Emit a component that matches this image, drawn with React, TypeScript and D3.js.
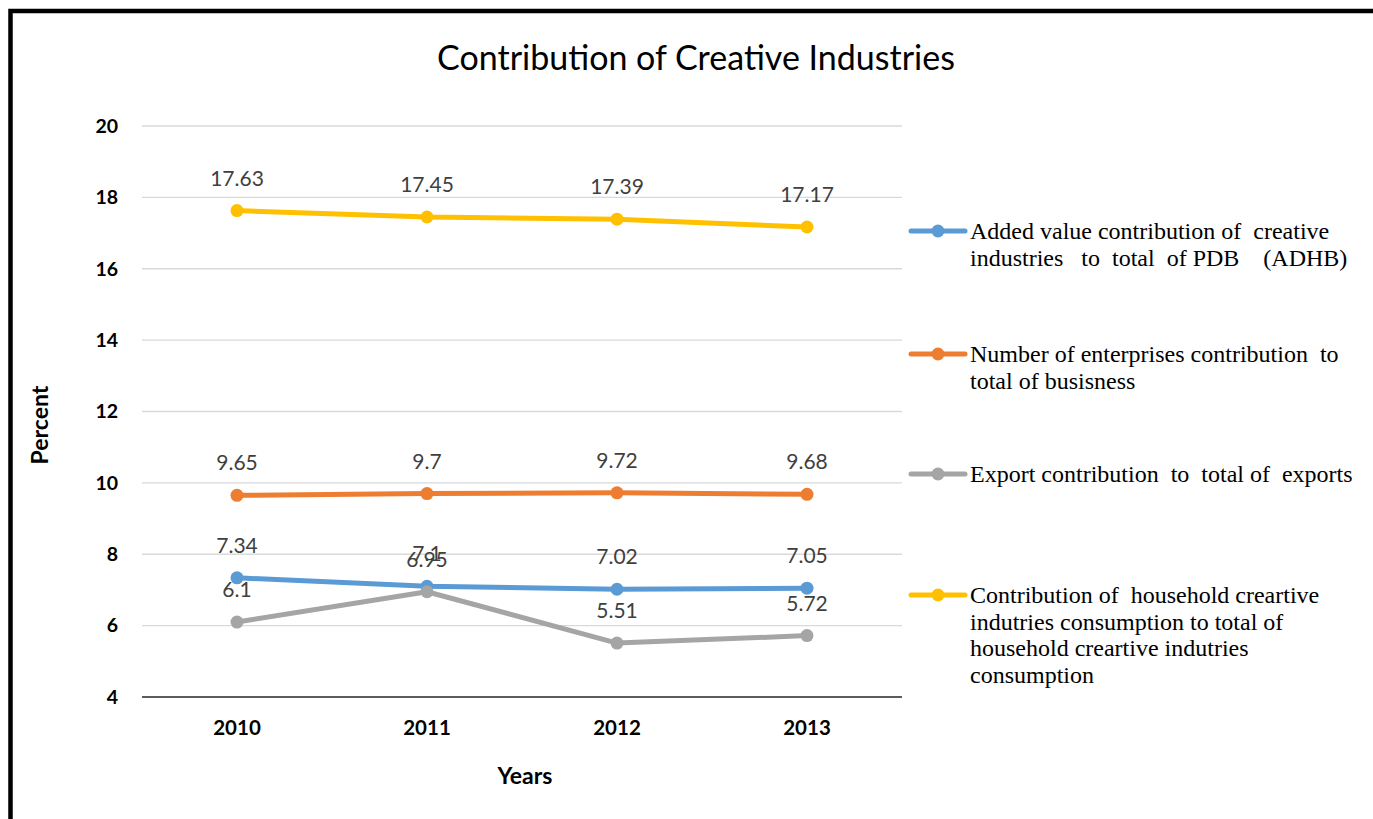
import React from "react";
import * as d3 from "d3";

const years = ["2010", "2011", "2012", "2013"];
const addedValue = [7.34, 7.1, 7.02, 7.05];
const enterprises = [9.65, 9.7, 9.72, 9.68];
const exportsShare = [6.1, 6.95, 5.51, 5.72];
const household = [17.63, 17.45, 17.39, 17.17];
const yTicks = [4, 6, 8, 10, 12, 14, 16, 18, 20];

const seriesNames = [
  ["Added value contribution of  creative", "industries   to  total  of PDB    (ADHB)"],
  ["Number of enterprises contribution  to", "total of busisness"],
  ["Export contribution  to  total of  exports"],
  [
    "Contribution of  household creartive",
    "indutries consumption to total of",
    "household creartive indutries",
    "consumption",
  ],
];
const seriesValues = [addedValue, enterprises, exportsShare, household];
const seriesColors = ["#5B9BD5", "#ED7D31", "#A5A5A5", "#FFC000"];

const W = 1373;
const H = 819;
const plotLeft = 142;
const plotRight = 902;
const plotTop = 126;
const plotBottom = 697;

export default function App() {
  const x = d3.scaleBand<string>().domain(years).range([plotLeft, plotRight]);
  const y = d3.scaleLinear().domain([4, 20]).range([plotBottom, plotTop]);
  const cx = (yr: string) => (x(yr) as number) + x.bandwidth() / 2;
  const line = d3
    .line<number>()
    .x((_, i) => cx(years[i]))
    .y((v) => y(v));

  const legendY = [231, 354, 474, 595];
  const lineH = 26.5;
  const sans = "Lato, Carlito, 'Open Sans', sans-serif";
  const serif = "'Liberation Serif', 'Times New Roman', serif";

  return (
    <svg
      width={W}
      height={H}
      style={{ position: "absolute", left: 0, top: 0, background: "#fff" }}
    >
      <rect x={0} y={0} width={W} height={H} fill="#fff" />
      <rect
        x={10.5}
        y={11}
        width={W + 100}
        height={H + 100}
        fill="none"
        stroke="#000"
        strokeWidth={4.5}
      />
      <text
        x={696}
        y={70}
        textAnchor="middle"
        fontFamily={sans}
        fontSize={34}
        fill="#000"
      >
        Contribution of Creative Industries
      </text>

      {yTicks.map((t) => (
        <g key={t}>
          <line
            x1={plotLeft}
            x2={plotRight}
            y1={y(t)}
            y2={y(t)}
            stroke={t === 4 ? "#262626" : "#D9D9D9"}
            strokeWidth={t === 4 ? 1.5 : 1.3}
          />
          <text
            x={118}
            y={y(t)}
            dy="0.35em"
            textAnchor="end"
            fontFamily={sans}
            fontWeight="bold"
            fontSize={19.5}
            fill="#000"
          >
            {t}
          </text>
        </g>
      ))}

      {years.map((yr) => (
        <text
          key={yr}
          x={cx(yr)}
          y={728}
          dy="0.35em"
          textAnchor="middle"
          fontFamily={sans}
          fontWeight="bold"
          fontSize={20.5}
          fill="#000"
        >
          {yr}
        </text>
      ))}

      <text
        x={525}
        y={776}
        dy="0.35em"
        textAnchor="middle"
        fontFamily={sans}
        fontWeight="bold"
        fontSize={23}
        fill="#000"
      >
        Years
      </text>
      <text
        transform={`translate(40,425) rotate(-90)`}
        dy="0.35em"
        textAnchor="middle"
        fontFamily={sans}
        fontWeight="bold"
        fontSize={23}
        fill="#000"
      >
        Percent
      </text>

      {seriesValues.map((vals, si) => (
        <g key={si}>
          <path
            d={line(vals) || ""}
            fill="none"
            stroke={seriesColors[si]}
            strokeWidth={5}
            strokeLinejoin="round"
          />
          {vals.map((v, i) => (
            <circle
              key={i}
              cx={cx(years[i])}
              cy={y(v)}
              r={6.5}
              fill={seriesColors[si]}
            />
          ))}
        </g>
      ))}

      {seriesValues.map((vals, si) =>
        vals.map((v, i) => (
          <text
            key={`${si}-${i}`}
            x={cx(years[i])}
            y={y(v) - 25}
            textAnchor="middle"
            fontFamily={sans}
            fontSize={21}
            fill="#404040"
          >
            {String(v)}
          </text>
        ))
      )}

      {seriesNames.map((lines, si) => (
        <g key={si}>
          <line
            x1={911}
            x2={965}
            y1={legendY[si]}
            y2={legendY[si]}
            stroke={seriesColors[si]}
            strokeWidth={5}
            strokeLinecap="round"
          />
          <circle cx={938} cy={legendY[si]} r={6.5} fill={seriesColors[si]} />
          {lines.map((ln, li) => (
            <text
              key={li}
              x={970}
              y={legendY[si] + 8 + li * lineH}
              fontFamily={serif}
              fontSize={24}
              fill="#000"
              style={{ whiteSpace: "pre" }}
            >
              {ln}
            </text>
          ))}
        </g>
      ))}
    </svg>
  );
}
